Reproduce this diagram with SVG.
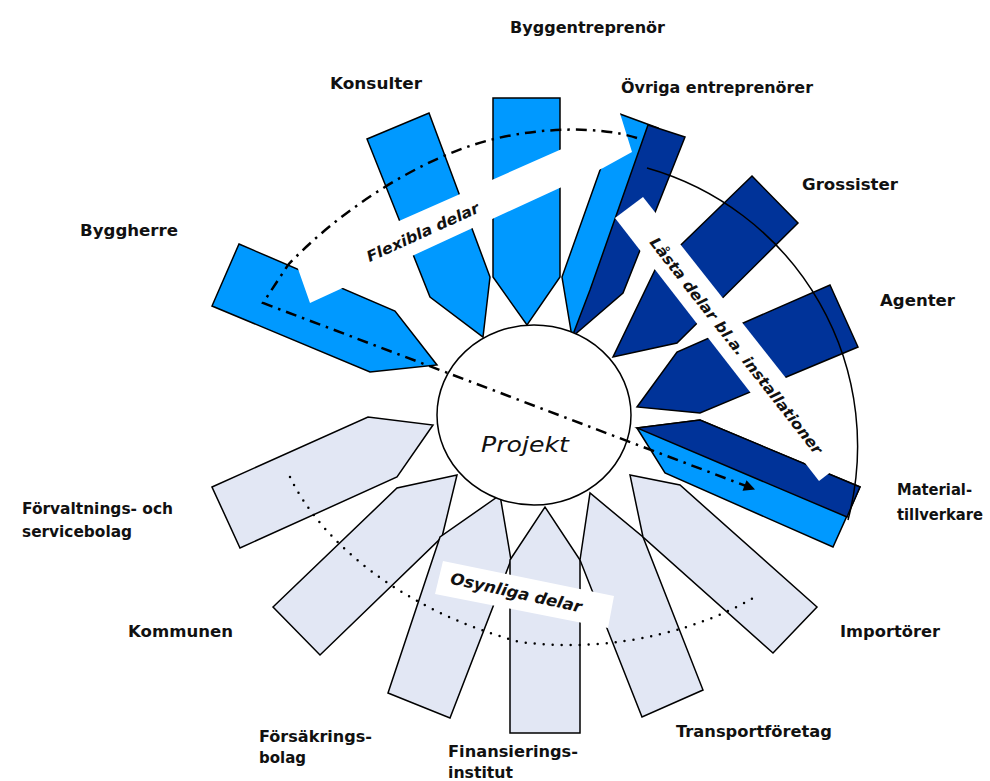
<svg xmlns="http://www.w3.org/2000/svg" width="990" height="781" viewBox="0 0 990 781">
<defs>
<style>
.lb{fill:#0099FF;stroke:#000;stroke-width:1.5;stroke-linejoin:miter}
.db{fill:#003399;stroke:#000;stroke-width:1.5}
.gr{fill:#E2E7F4;stroke:#000;stroke-width:1.5}
.band{fill:#fff;stroke:none}
.lbl{font-family:"DejaVu Sans",Verdana,sans-serif;font-size:16px;font-weight:bold;fill:#111}
.bt{font-family:"DejaVu Sans",Verdana,sans-serif;font-style:italic;font-weight:bold;fill:#111}
</style>
<marker id="ah" viewBox="0 0 10 10" refX="9" refY="5" markerWidth="6" markerHeight="4.5" orient="auto" markerUnits="strokeWidth">
<path d="M0,0 L10,5 L0,10 z" fill="#000"/>
</marker>
</defs>
<rect width="990" height="781" fill="#fff"/>

<g id="gray-nodes">
<g id="forvaltning"><polygon class="gr" points="212,487 368,417 433,425 397,477 240,548"/></g>
<g id="kommunen"><polygon class="gr" points="273,607 397,488 457,475 442,537 320,655"/></g>
<g id="forsakring"><polygon class="gr" points="388,693 440,537 500,495 511,560 450,718"/></g>
<g id="finansiering"><polygon class="gr" points="510,560 545,507 580,560 580,733 510,733"/></g>
<g id="transport"><polygon class="gr" points="580,560 590,493 643,537 703,690 642,717"/></g>
<g id="importorer"><polygon class="gr" points="630,475 680,485 817,607 773,653 643,537"/></g>
</g>

<g id="flex-nodes">
<g id="byggherre"><polygon class="lb" points="239,244 395,311 437,365 370,372 212,306"/></g>
<g id="konsulter"><polygon class="lb" points="367,139 429,113 490,277 483,337 430,297"/></g>
<g id="byggentreprenor"><polygon class="lb" points="493,98 560,98 560,277 527,325 493,277"/></g>
<g id="ovriga-light"><polygon class="lb" points="620,114 658,128 600,292 572,337 562,277"/></g>
</g>

<g id="locked-nodes">
<g id="ovriga-dark"><polygon class="db" points="648,125 685,137 623,293 572,337 590,290"/></g>
<g id="grossister"><polygon class="db" points="752,176 798,223 677,343 613,357 655,270"/></g>
<g id="agenter"><polygon class="db" points="830,285 858,347 700,413 637,407 677,352"/></g>
<g id="material">
<polygon class="lb" points="637,428 700,420 860,487 833,547 665,473"/>
<polygon class="db" points="637,428 700,420 860,487 847,517"/>
</g>
</g>

<g id="projekt">
<ellipse cx="534" cy="415" rx="97" ry="90" fill="#fff" stroke="#000" stroke-width="1.5"/>
</g>

<g id="bands">
<polygon class="band" points="310,303 297,266 598,133 614,94 632,152 603,168"/>
<polygon class="band" points="615,218 643,197 849,458 819,481"/>
<polygon class="band" points="443,561 614,596 608,628 435,594"/>
</g>

<g id="connectors" fill="none" stroke="#000">
<path d="M647,168 A289,289 0 0 1 848,520" stroke-width="1.5"/>
<path d="M637,138 C600,126 540,127 490,140 C420,158 340,210 288,265 L263,303 L754,489" stroke-width="2.5" stroke-dasharray="11,6,2.5,6" marker-end="url(#ah)"/>
<path d="M290,477 C320,540 400,610 520,642 C620,655 710,625 758,595" stroke-width="2.5" stroke-linecap="round" stroke-dasharray="0,9"/>
</g>

<g id="labels">
<text class="lbl" x="510" y="33" textLength="155" lengthAdjust="spacingAndGlyphs">Byggentreprenör</text>
<text class="lbl" x="330" y="89" textLength="92" lengthAdjust="spacingAndGlyphs">Konsulter</text>
<text class="lbl" x="621" y="93" textLength="192" lengthAdjust="spacingAndGlyphs">Övriga entreprenörer</text>
<text class="lbl" x="802" y="190" textLength="96" lengthAdjust="spacingAndGlyphs">Grossister</text>
<text class="lbl" x="80" y="236" textLength="98" lengthAdjust="spacingAndGlyphs">Byggherre</text>
<text class="lbl" x="880" y="306" textLength="75" lengthAdjust="spacingAndGlyphs">Agenter</text>
<text class="lbl" x="897" y="495" textLength="75" lengthAdjust="spacingAndGlyphs">Material-</text>
<text class="lbl" x="897" y="520" textLength="86" lengthAdjust="spacingAndGlyphs">tillverkare</text>
<text class="lbl" x="22" y="514" textLength="151" lengthAdjust="spacingAndGlyphs">Förvaltnings- och</text>
<text class="lbl" x="22" y="537" textLength="110" lengthAdjust="spacingAndGlyphs">servicebolag</text>
<text class="lbl" x="128" y="637" textLength="105" lengthAdjust="spacingAndGlyphs">Kommunen</text>
<text class="lbl" x="840" y="637" textLength="100" lengthAdjust="spacingAndGlyphs">Importörer</text>
<text class="lbl" x="259" y="742" textLength="113" lengthAdjust="spacingAndGlyphs">Försäkrings-</text>
<text class="lbl" x="259" y="763" textLength="47" lengthAdjust="spacingAndGlyphs">bolag</text>
<text class="lbl" x="448" y="757" textLength="130" lengthAdjust="spacingAndGlyphs">Finansierings-</text>
<text class="lbl" x="448" y="778" textLength="65" lengthAdjust="spacingAndGlyphs">institut</text>
<text class="lbl" x="676" y="737" textLength="156" lengthAdjust="spacingAndGlyphs">Transportföretag</text>
<text x="525" y="452" text-anchor="middle" font-family="DejaVu Sans,Verdana,sans-serif" font-style="italic" font-size="21" fill="#111" textLength="88" lengthAdjust="spacingAndGlyphs">Projekt</text>
<text class="bt" font-size="15" text-anchor="middle" transform="translate(425,237) rotate(-24.5)" textLength="122" lengthAdjust="spacingAndGlyphs">Flexibla delar</text>
<text class="bt" font-size="15" text-anchor="middle" transform="translate(732,349) rotate(52)" textLength="270" lengthAdjust="spacingAndGlyphs">Låsta delar bl.a. installationer</text>
<text class="bt" font-size="16" text-anchor="middle" transform="translate(515,598) rotate(12.5)" textLength="134" lengthAdjust="spacingAndGlyphs">Osynliga delar</text>
</g>
</svg>
